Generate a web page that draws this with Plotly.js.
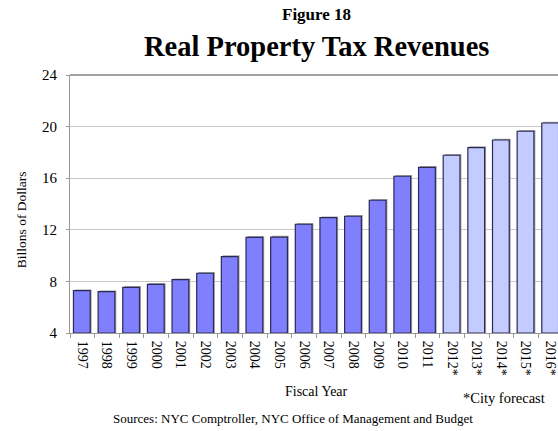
<!DOCTYPE html>
<html>
<head>
<meta charset="utf-8">
<script src="https://cdn.plot.ly/plotly-3.0.1.min.js"></script>
<style>
html,body{margin:0;padding:0;overflow:hidden;background:#fff;}
#chart{width:572px;height:431px;}
</style>
</head>
<body>
<div id="chart"></div>
<script>
var years = ["1997","1998","1999","2000","2001","2002","2003","2004","2005","2006","2007","2008","2009","2010","2011","2012*","2013*","2014*","2015*","2016*"];
var revenues = [7.28,7.2,7.54,7.77,8.13,8.63,9.92,11.42,11.43,12.43,12.94,13.05,14.29,16.15,16.84,17.78,18.37,18.96,19.64,20.28];
var isForecast = [0,0,0,0,0,0,0,0,0,0,0,0,0,0,0,1,1,1,1,1];

var actualColor = "#8080ff";
var forecastColor = "#c3cbff";
var serif = "Liberation Serif, Times New Roman, serif";
var axisBase = 4;

var colors = isForecast.map(function(f){ return f ? forecastColor : actualColor; });

var shadow = {
  type: "bar",
  x: years,
  y: revenues.map(function(v){ return v - axisBase + 0.1; }),
  base: axisBase,
  width: 0.68,
  offset: -0.3,
  marker: {color: "#a8a8a8", line: {width: 0}},
  hoverinfo: "skip",
  showlegend: false
};

var bars = {
  type: "bar",
  x: years,
  y: revenues.map(function(v){ return v - axisBase; }),
  base: axisBase,
  width: 0.68,
  offset: -0.36,
  marker: {color: colors, line: {color: "#2a2a55", width: 1.2}},
  showlegend: false
};

var layout = {
  width: 572,
  height: 431,
  margin: {l: 70, r: 9, t: 75, b: 98},
  paper_bgcolor: "#fff",
  plot_bgcolor: "#fff",
  barmode: "overlay",
  font: {family: serif, color: "#000"},
  xaxis: {
    type: "category",
    tickangle: 90,
    tickson: "boundaries",
    ticks: "outside",
    ticklen: 4,
    tickcolor: "#999",
    showline: true,
    linecolor: "#999",
    linewidth: 1,
    showgrid: false,
    ticklabelstandoff: 4,
    tickfont: {family: serif, size: 14, color: "#000"},
    range: [-0.5, 19.5],
    fixedrange: true
  },
  yaxis: {
    range: [4, 24],
    dtick: 4,
    tick0: 4,
    showgrid: true,
    gridcolor: "#c8c8c8",
    gridwidth: 1,
    zeroline: false,
    showline: true,
    linecolor: "#999",
    ticks: "outside",
    ticklen: 3,
    tickcolor: "#999",
    ticklabelstandoff: 6,
    tickfont: {family: serif, size: 15, color: "#000"},
    fixedrange: true
  },
  shapes: [
    {type: "line", xref: "paper", yref: "paper", x0: 0, x1: 1, y0: 1, y1: 1, line: {color: "#444", width: 1.2}}
  ],
  annotations: [
    {text: "<b>Figure 18</b>", xref: "paper", yref: "paper", x: 0.5, y: 1.233, xanchor: "center", yanchor: "middle", showarrow: false, font: {family: serif, size: 17, color: "#000"}},
    {text: "<b>Real Property Tax Revenues</b>", xref: "paper", yref: "paper", x: 0.5, y: 1.109, xanchor: "center", yanchor: "middle", showarrow: false, font: {family: serif, size: 28.5, color: "#000"}},
    {text: "Billons of Dollars", xref: "paper", yref: "paper", x: -0.097, y: 0.438, xanchor: "center", yanchor: "middle", textangle: -90, showarrow: false, font: {family: serif, size: 13.5, color: "#000"}},
    {text: "Fiscal Year", xref: "paper", yref: "paper", x: 0.5, y: -0.225, xanchor: "center", yanchor: "middle", showarrow: false, font: {family: serif, size: 14, color: "#000"}},
    {text: "*City forecast", xref: "paper", yref: "paper", x: 0.88, y: -0.252, xanchor: "center", yanchor: "middle", showarrow: false, font: {family: serif, size: 14.5, color: "#000"}},
    {text: "Sources: NYC Comptroller, NYC Office of Management and Budget", xref: "paper", yref: "paper", x: 0.452, y: -0.333, xanchor: "center", yanchor: "middle", showarrow: false, font: {family: serif, size: 13, color: "#000"}}
  ]
};

Plotly.newPlot("chart", [shadow, bars], layout, {displayModeBar: false, staticPlot: true});
</script>
</body>
</html>
